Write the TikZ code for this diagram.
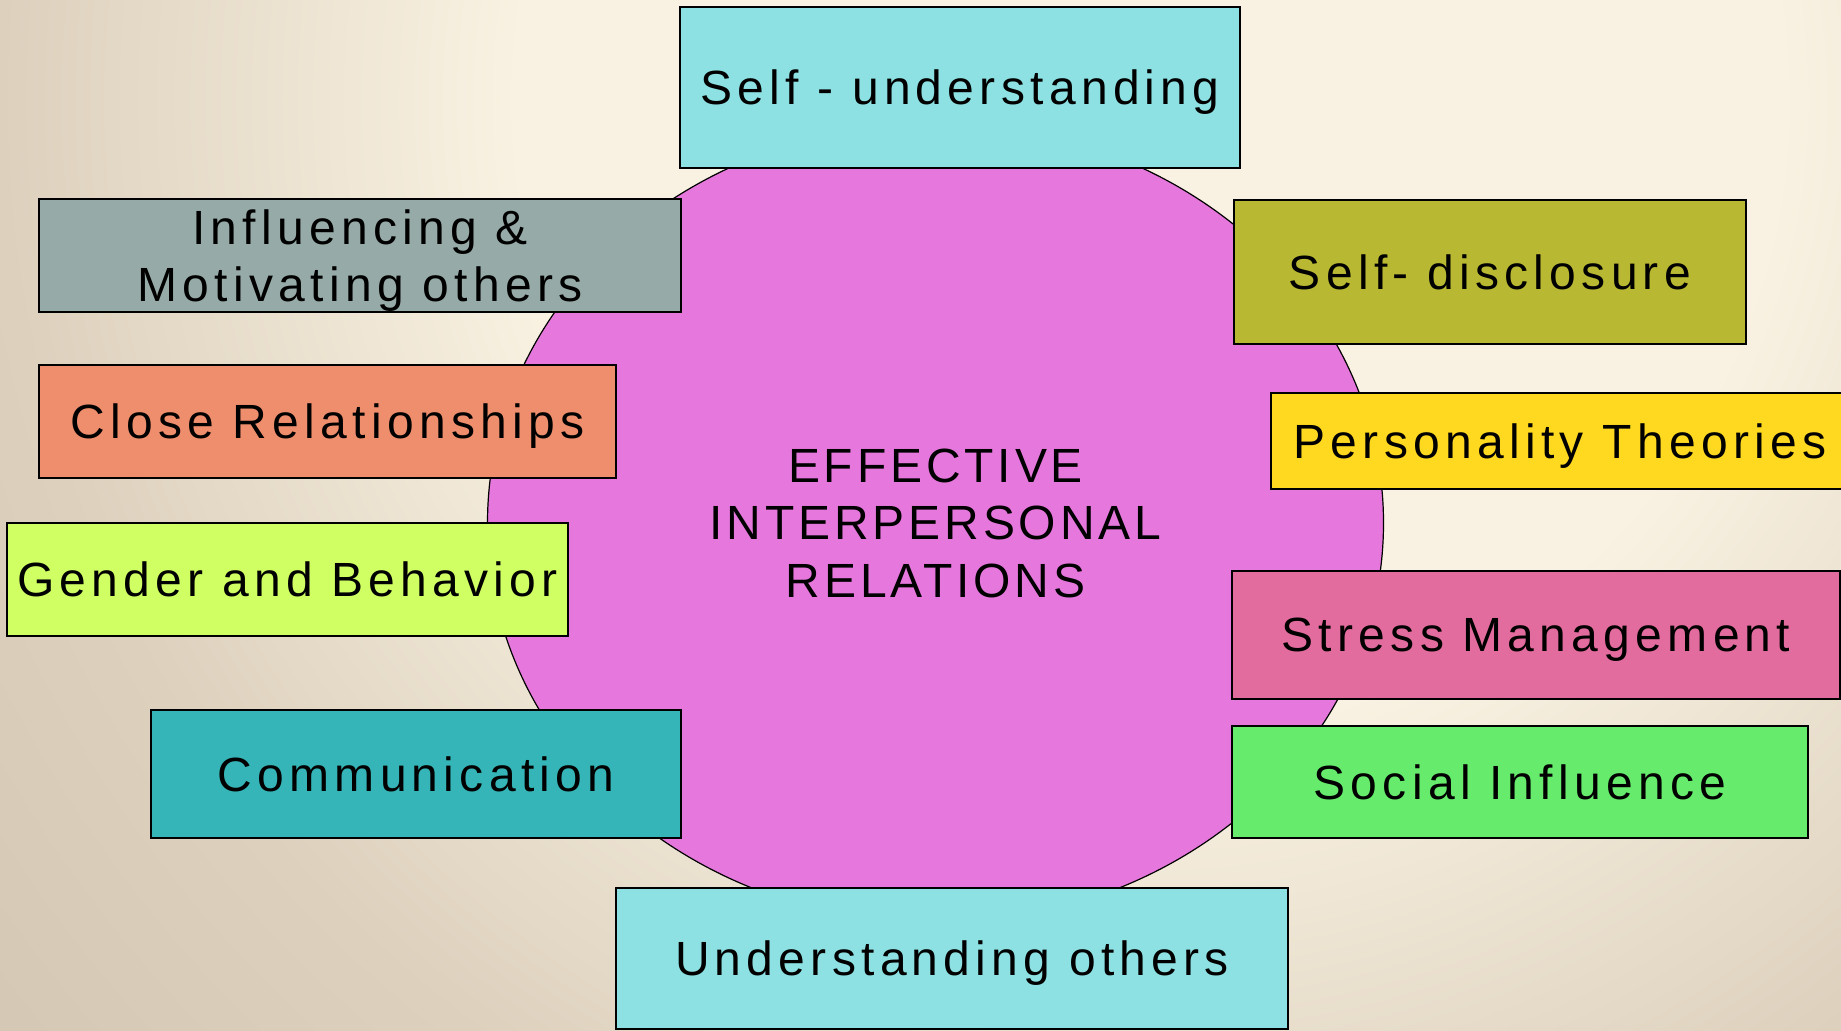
\documentclass[tikz,border=0pt]{standalone}
\usepackage{fontspec}
\setmainfont{Liberation Sans}
\newfontfamily\topicfont[LetterSpace=11]{Liberation Sans}
\newfontfamily\hubfont[LetterSpace=8]{Liberation Sans}
\usetikzlibrary{shapes.geometric}

% paper tones
\definecolor{bgcream}{HTML}{F9F2E2}
\definecolor{bgtan}{HTML}{DDD0BD}
\definecolor{bgdark}{HTML}{D4C7B3}
% fills
\definecolor{hubpink}{HTML}{E678DD}
\definecolor{aqua}{HTML}{8DE1E3}
\definecolor{slate}{HTML}{96AAA7}
\definecolor{salmon}{HTML}{EF8E6D}
\definecolor{lime}{HTML}{CFFF63}
\definecolor{teal}{HTML}{35B5B7}
\definecolor{olive}{HTML}{B8B832}
\definecolor{sun}{HTML}{FFD820}
\definecolor{rose}{HTML}{E26C9E}
\definecolor{leaf}{HTML}{66EB6D}

% 25bp is the rim of the shaded circle
\pgfdeclareradialshading{paper}{\pgfpointorigin}{color(0bp)=(bgcream); color(10.5bp)=(bgcream); color(19.2bp)=(bgtan); color(25bp)=(bgdark); color(50bp)=(bgdark)}

\tikzset{
  topic/.style={draw=black, line width=1pt, inner sep=0pt, align=center,
    text depth=0pt, font=\topicfont\fontsize{24}{28.5}\selectfont},
  hub/.style={ellipse, draw=black, line width=0.6pt, fill=hubpink, inner sep=0pt,
    align=center, text depth=0pt, font=\hubfont\fontsize{24}{28.75}\selectfont},
}

\begin{document}
\begin{tikzpicture}[x=0.5pt, y=-0.5pt]
  \useasboundingbox (0,0) rectangle (1841,1030);
  % Background
  \begin{scope}
    \clip (0,0) rectangle (1841,1030);
    \shade[shading=paper] (1150,100) circle (750pt);
  \end{scope}
  % Centre
  \node[hub, minimum width=448pt, minimum height=400pt] (hub) at (935.5,523)
    {EFFECTIVE\\INTERPERSONAL\\RELATIONS};
  % Topic boxes: name/x/y/width/height/fill/label
  \foreach \nm/\bx/\by/\bw/\bh/\bc/\bt in {
      selfund/960/87.5/560/161/aqua/{Self - understanding},
      influence/360/255.5/642/113/slate/{Influencing \&\\Motivating others},
      close/327.5/421.5/577/113/salmon/{Close Relationships},
      gender/287.5/579.5/561/113/lime/{Gender and Behavior},
      comm/416/774/530/128/teal/{Communication},
      others/952/958.5/672/141/aqua/{Understanding others},
      disclose/1490/272/512/144/olive/{Self- disclosure},
      persona/1560/441/578/96/sun/{Personality Theories},
      stress/1536/635/608/128/rose/{Stress Management},
      social/1520/782/576/112/leaf/{Social Influence}}{
    \node[topic, fill=\bc, minimum width=\bw*0.5pt, minimum height=\bh*0.5pt] (\nm) at (\bx,\by) {\bt};
  }
\end{tikzpicture}
\end{document}
